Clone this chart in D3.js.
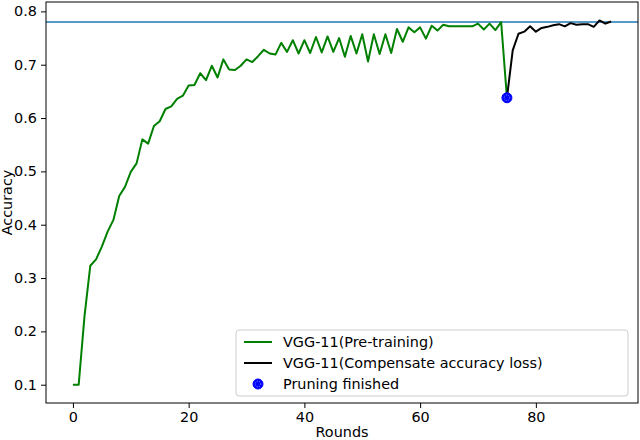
<!DOCTYPE html>
<html>
<head>
<meta charset="utf-8">
<script src="https://cdn.jsdelivr.net/npm/d3@7"></script>
<style>
  body { margin: 0; background: #fff; }
  text { font-family: "DejaVu Sans", sans-serif; }
</style>
</head>
<body>
<div id="chart-area"></div>
<script>
// accuracy per round
var pretrainStart = 0;
var pretrainAcc = [0.100, 0.100, 0.228, 0.323, 0.335, 0.359, 0.387, 0.409, 0.454, 0.471,
  0.499, 0.515, 0.560, 0.552, 0.585, 0.594, 0.617, 0.622, 0.636, 0.642,
  0.661, 0.662, 0.684, 0.671, 0.698, 0.676, 0.710, 0.691, 0.690, 0.698,
  0.710, 0.705, 0.716, 0.728, 0.721, 0.719, 0.741, 0.724, 0.746, 0.721,
  0.746, 0.722, 0.752, 0.723, 0.753, 0.724, 0.750, 0.715, 0.754, 0.721,
  0.757, 0.706, 0.757, 0.720, 0.757, 0.722, 0.767, 0.743, 0.770, 0.761,
  0.770, 0.749, 0.773, 0.764, 0.775, 0.772, 0.772, 0.772, 0.772, 0.772,
  0.777, 0.766, 0.777, 0.765, 0.780, 0.638];
var compensateStart = 75;
var compensateAcc = [0.638, 0.727, 0.758, 0.762, 0.772, 0.762, 0.769, 0.771, 0.774, 0.776,
  0.772, 0.778, 0.775, 0.776, 0.776, 0.771, 0.783, 0.777, 0.781];
var prunedPoint = {round: 75, acc: 0.638};
var baselineAcc = 0.78;
var xTicks = [0, 20, 40, 60, 80];
var yTicks = [0.1, 0.2, 0.3, 0.4, 0.5, 0.6, 0.7, 0.8];
var legendLabels = ["VGG-11(Pre-training)", "VGG-11(Compensate accuracy loss)", "Pruning finished"];

var width = 640, height = 440;
var margin = {left: 46, right: 2, top: 2, bottom: 37};
var plotW = width - margin.left - margin.right;
var plotH = height - margin.top - margin.bottom;
var fontSize = "14.4px";

var svg = d3.select("#chart-area").append("svg").attr("width", width).attr("height", height);
var g = svg.append("g").attr("transform", "translate(" + margin.left + "," + margin.top + ")");

var x = d3.scaleLinear().domain([-4.65, 97.65]).range([0, plotW]);
var y = d3.scaleLinear().domain([0.0657, 0.8176]).range([plotH, 0]);

var toPoints = function(arr, start) {
  return arr.map(function(v, i) { return {round: start + i, acc: v}; });
};
var line = d3.line().x(function(d) { return x(d.round); }).y(function(d) { return y(d.acc); });

// baseline
g.append("line").attr("x1", 0).attr("x2", plotW)
  .attr("y1", y(baselineAcc)).attr("y2", y(baselineAcc))
  .attr("stroke", "#1f77b4").attr("stroke-width", 1.5);

g.append("path").datum(toPoints(pretrainAcc, pretrainStart)).attr("d", line)
  .attr("fill", "none").attr("stroke", "#008000").attr("stroke-width", 2).attr("stroke-linejoin", "round");
g.append("path").datum(toPoints(compensateAcc, compensateStart)).attr("d", line)
  .attr("fill", "none").attr("stroke", "#000").attr("stroke-width", 2).attr("stroke-linejoin", "round");

function marker(sel, cx, cy) {
  sel.append("circle").attr("cx", cx).attr("cy", cy).attr("r", 5).attr("fill", "#0000ff").attr("stroke", "#0000ff");
  sel.append("circle").attr("cx", cx).attr("cy", cy).attr("r", 2.8).attr("fill", "none")
    .attr("stroke", "#9999ff").attr("stroke-width", 0.8).attr("stroke-dasharray", "1,1");
}
marker(g, x(prunedPoint.round), y(prunedPoint.acc));

// axes
var xAxis = d3.axisBottom(x).tickValues(xTicks).tickSize(5).tickPadding(4).tickFormat(d3.format("d"));
var yAxis = d3.axisLeft(y).tickValues(yTicks).tickSize(5).tickPadding(4).tickFormat(d3.format(".1f"));
var xg = g.append("g").attr("transform", "translate(0," + plotH + ")").call(xAxis);
var yg = g.append("g").call(yAxis);
[xg, yg].forEach(function(a) {
  a.select(".domain").remove();
  a.selectAll("text").attr("font-size", fontSize).attr("fill", "#000").attr("font-family", "DejaVu Sans");
  a.selectAll("line").attr("stroke", "#000").attr("stroke-width", 1);
});

g.append("rect").attr("x", 0).attr("y", 0).attr("width", plotW).attr("height", plotH)
  .attr("fill", "none").attr("stroke", "#000").attr("stroke-width", 1);

svg.append("text").attr("x", margin.left + plotW / 2).attr("y", 437).attr("text-anchor", "middle")
  .attr("font-size", fontSize).text("Rounds");
svg.append("text").attr("transform", "translate(12," + (margin.top + plotH / 2) + ") rotate(-90)")
  .attr("text-anchor", "middle").attr("font-size", fontSize).text("Accuracy");

// legend
var lg = svg.append("g").attr("transform", "translate(236,330)");
lg.append("rect").attr("width", 392).attr("height", 66).attr("rx", 3)
  .attr("fill", "#fff").attr("fill-opacity", 0.8).attr("stroke", "#ccc");
var legendColors = ["#008000", "#000"];
legendLabels.forEach(function(label, i) {
  var cy = 12 + i * 21;
  if (i < 2) {
    lg.append("line").attr("x1", 8).attr("x2", 36).attr("y1", cy).attr("y2", cy)
      .attr("stroke", legendColors[i]).attr("stroke-width", 2);
  } else {
    marker(lg, 22, cy);
  }
  lg.append("text").attr("x", 47).attr("y", cy + 5).attr("font-size", fontSize).text(label);
});
</script>
</body>
</html>
